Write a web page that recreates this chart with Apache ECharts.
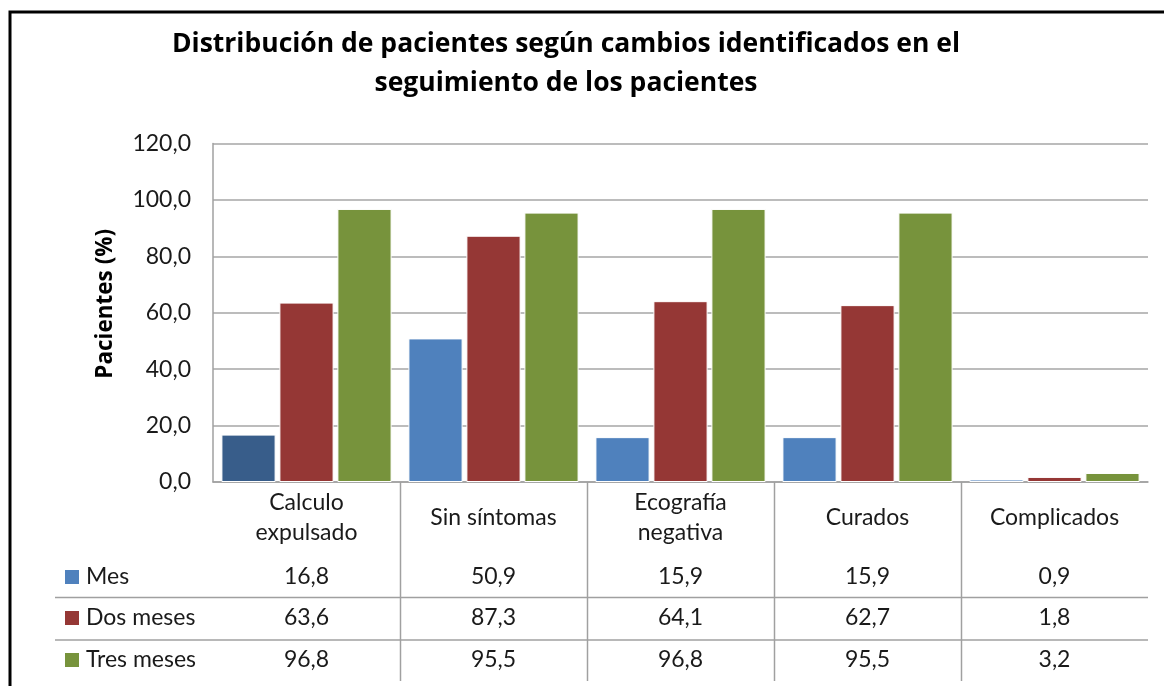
<!DOCTYPE html>
<html>
<head>
<meta charset="utf-8">
<script src="https://cdn.jsdelivr.net/npm/echarts@6/dist/echarts.min.js"></script>
<style>
html,body{margin:0;padding:0;background:#fff;}
#c{width:1164px;height:686px;}
</style>
</head>
<body>
<div id="c"></div>
<script>
var categories = ['Calculo\nexpulsado', 'Sin síntomas', 'Ecografía\nnegativa', 'Curados', 'Complicados'];
var seriesNames = ['Mes', 'Dos meses', 'Tres meses'];
var mes = [16.8, 50.9, 15.9, 15.9, 0.9];
var dosMeses = [63.6, 87.3, 64.1, 62.7, 1.8];
var tresMeses = [96.8, 95.5, 96.8, 95.5, 3.2];
var yTicks = [0, 20, 40, 60, 80, 100, 120];
var titleText = 'Distribución de pacientes según cambios identificados en el\nseguimiento de los pacientes';
var yName = 'Pacientes (%)';

var allValues = [mes, dosMeses, tresMeses];
var colors = ['#4F81BD', '#953735', '#77933C'];
var FONT = 'Lato';
var BFONT = 'Open Sans';
var FS = 23;
function fmt(v){ return v.toFixed(1).replace('.', ','); }

var chart = echarts.init(document.getElementById('c'), null, {renderer:'canvas'});

var GRID = {left:213, top:143.5, right:16, bottom:204};
var rowCenters = [577, 618, 660];

var xAxes = [{
  type:'category', data:categories, gridIndex:0,
  axisLine:{show:true, lineStyle:{color:'#A0A0A0', width:1.5}},
  axisTick:{show:false},
  axisLabel:{interval:0, margin:6, color:'#1a1a1a', fontFamily:FONT, fontSize:FS, lineHeight:30, verticalAlign:'top',
    formatter:function(v){ return v.indexOf('\n')>=0 ? v : '{one|'+v+'}'; },
    rich:{one:{fontFamily:FONT, fontSize:FS, lineHeight:60, color:'#1a1a1a'}}}
}];
allValues.forEach(function(arr, k){
  xAxes.push({
    type:'category', data:categories, gridIndex:0, position:'bottom',
    axisLine:{show:false}, axisTick:{show:false},
    axisLabel:{interval:0, margin: rowCenters[k]-482-12, color:'#1a1a1a', fontFamily:FONT, fontSize:FS, lineHeight:24,
      formatter:function(v, idx){ return fmt(arr[idx]); }}
  });
});

var series = allValues.map(function(arr, k){
  return {
    name: seriesNames[k], type:'bar', xAxisIndex:0,
    barCategoryGap:'9%', barGap:'7%',
    itemStyle:{color:colors[k], borderColor:'#ffffff', borderWidth:1},
    data: arr.map(function(v, i){
      if (k===0 && i===0) return {value:v, itemStyle:{color:'#385D8A'}};
      return v;
    })
  };
});

chart.setOption({
  animation:false,
  backgroundColor:'#ffffff',
  title:{text:titleText, left:561, top:20, textAlign:'center',
    textStyle:{fontFamily:BFONT, fontWeight:'bold', fontSize:26.5, lineHeight:39, color:'#000'}},
  grid:GRID,
  xAxis:xAxes,
  yAxis:{type:'value', min:0, max:120, interval:20,
    name:yName, nameLocation:'middle', nameGap:96, nameRotate:90,
    nameTextStyle:{fontFamily:BFONT, fontWeight:'bold', fontSize:22.5, color:'#000', padding:[0,0,0,18]},
    axisLine:{show:true, lineStyle:{color:'#A0A0A0', width:1.5}},
    axisTick:{show:false},
    splitLine:{lineStyle:{color:'#A6A6A6', width:1.5}},
    axisLabel:{margin:22, color:'#1a1a1a', fontFamily:FONT, fontSize:FS,
      formatter:function(v){ return yTicks.indexOf(v)>=0 ? fmt(v) : ''; }}
  },
  series:series
});

// table decorations
var g = [];
g.push({type:'rect', shape:{x:10, y:12, width:1300, height:800}, style:{fill:'none', stroke:'#000', lineWidth:3}, z:100});
for (var i=0;i<categories.length-1;i++){
  var a = chart.convertToPixel({xAxisIndex:0}, i);
  var b = chart.convertToPixel({xAxisIndex:0}, i+1);
  var xb = Math.round((a+b)/2)+0.5;
  g.push({type:'line', shape:{x1:xb, y1:482, x2:xb, y2:681}, style:{stroke:'#A0A0A0', lineWidth:1.5}});
}
[597.5, 640].forEach(function(y){
  g.push({type:'line', shape:{x1:55, y1:y, x2:1148, y2:y}, style:{stroke:'#A0A0A0', lineWidth:1.5}});
});
seriesNames.forEach(function(n, k){
  g.push({type:'rect', shape:{x:65, y:rowCenters[k]-7, width:14, height:14}, style:{fill:colors[k]}});
  g.push({type:'text', x:86, y:rowCenters[k], style:{text:n, fontFamily:FONT, fontSize:FS, fill:'#1a1a1a', verticalAlign:'middle'}});
});
chart.setOption({graphic:g});
</script>
</body>
</html>
